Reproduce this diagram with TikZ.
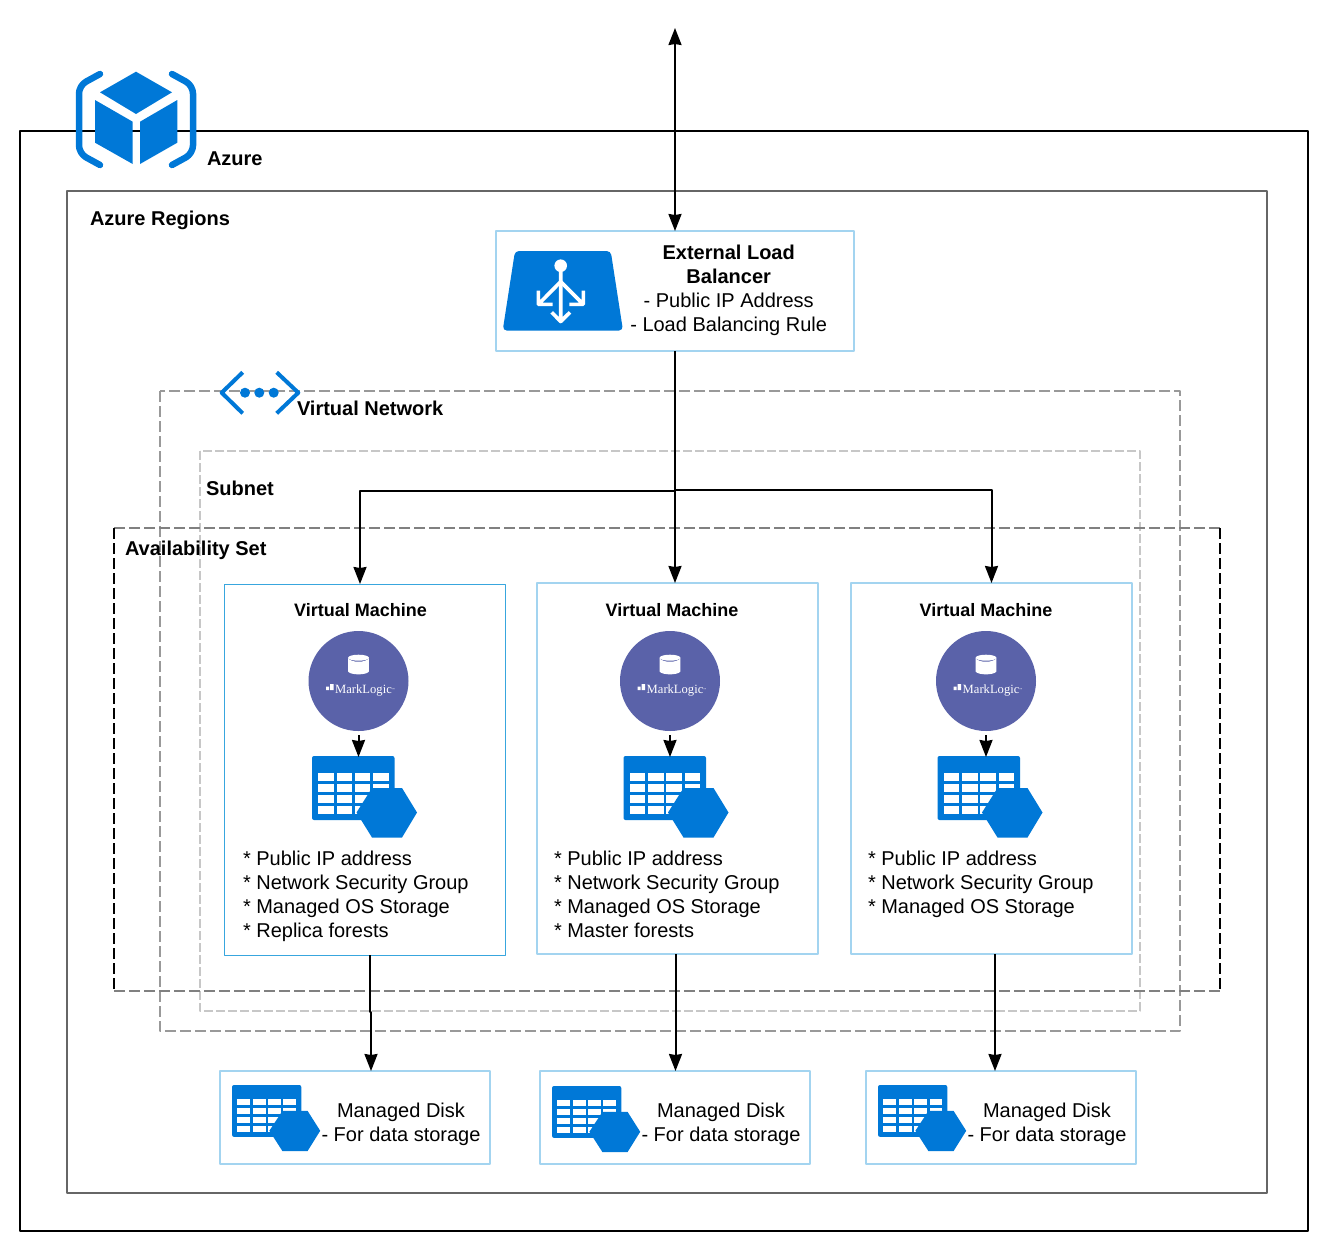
\documentclass[tikz,border=0pt]{standalone}
\usepackage{fontspec}
\setmainfont{Liberation Sans}
\newfontfamily\mlfont{Liberation Serif}
\usetikzlibrary{arrows.meta,positioning}
\definecolor{azblue}{HTML}{0078D7}
\definecolor{mlpurple}{HTML}{5A62A9}
\definecolor{paleblue}{HTML}{A3D4F0}
\definecolor{thinblue}{HTML}{38A6DE}
\tikzset{
	txt/.style={font=\fontsize{20}{24}\selectfont,inner sep=0pt,outer sep=0pt},
	title/.style={font=\fontsize{20}{24}\selectfont\bfseries,inner sep=0pt,outer sep=0pt,anchor=base west},
	vmtitle/.style={font=\fontsize{18}{22}\selectfont\bfseries,inner sep=0pt,outer sep=0pt},
	bluebox/.style={draw=paleblue,line width=2pt,fill=white,inner sep=0pt,outer sep=0pt},
	arr/.style={draw=black,line width=2pt,-{Stealth[length=17pt,width=13pt,inset=1pt]}},
	gridcell/.style={fill=white},
	pics/tablehex/.style={code={
		\fill[azblue,rounded corners=2pt] (0,0) rectangle (82.5,64);
		\foreach \cx in {6.3,24.7,42.7,61.3}
			\foreach \cy in {17.3,28,39,50}
				\fill[gridcell] (\cx,\cy) rectangle ++(15.4,7.8);
		\fill[azblue] (44.5,56.5)--(60,32)--(90,32)--(105,56.5)--(90,81.5)--(60,81.5)--cycle;
	}},
	pics/mlogo/.style={code={
		\fill[white] (0,-23.3) ellipse[x radius=10.4,y radius=3];
		\fill[white] (-10.4,-23) .. controls (-8,-18) and (8,-18) .. (10.4,-23)
			-- (10.4,-9.5) .. controls (8,-5.7) and (-8,-5.7) .. (-10.4,-9.5) -- cycle;
		\fill[white] (-28.5,3) rectangle (-25,9) (-32.5,5.5) rectangle (-29.5,9);
		\node[text=white,inner sep=0pt,anchor=base west,font=\mlfont\fontsize{12.6}{12}\selectfont] (mltext) at (-23.5,12.3) {MarkLogic\raisebox{3pt}{\fontsize{3}{3}\selectfont ™}};
	}},
}
\begin{document}
\begin{tikzpicture}[x=1pt,y=-1pt,line join=round,>=stealth]
	\useasboundingbox (0,0) rectangle (1328,1251);
	% containers
	\draw[line width=2pt] (20,131) rectangle (1308,1231);
	\draw[line width=2pt,draw=black!60] (67,191) rectangle (1267,1193);
	\draw[line width=2pt,draw=black!40,dash pattern=on 11pt off 4pt] (160,391) rectangle (1180,1031);
	\draw[line width=2pt,draw=black!22,dash pattern=on 9pt off 3pt] (200,451) rectangle (1140,1011);
	\draw[line width=2pt,draw=black!50,dash pattern=on 11pt off 4pt] (114,528) -- (1220,528) (114,991) -- (1220,991);
	\draw[line width=1.4pt,dash pattern=on 11pt off 4pt] (114,528) -- (114,991) (1220,528) -- (1220,991);
	% azure icon
	\draw[azblue,line width=6.5pt,line cap=round,rounded corners=8pt] (100,74)--(79,85.5)--(79,153.5)--(100,165);
	\draw[azblue,line width=6.5pt,line cap=round,rounded corners=8pt] (172,74)--(193,85.5)--(193,153.5)--(172,165);
	\fill[azblue] (136,71.7)--(172,92.3)--(136,114)--(100,92.3)--cycle;
	\fill[azblue] (95,100)--(132.7,121.7)--(132.7,164)--(95,142.7)--cycle;
	\fill[azblue] (177.3,100)--(140,121.7)--(140,164)--(177.3,142.7)--cycle;
	\node[title] (azure) at (207,165) {Azure};
	\node[title] (regions) at (90,225) {Azure Regions};
	% vnet icon
	\draw[azblue,line width=4pt] (242.7,372.3)--(221.7,392.7)--(242.7,413.3);
	\draw[azblue,line width=4pt] (276.7,372.3)--(298.3,392.7)--(276.7,413.3);
	\foreach \x in {245,259.3,273.7} \fill[azblue] (\x,392.7) circle (5);
	\node[title] (vnet) at (297,415) {Virtual Network};
	\node[title] (subnet) at (206,495) {Subnet};
	\node[title] (avset) at (125,555) {Availability Set};
	% load balancer
	\node[bluebox,minimum width=358pt,minimum height=120pt] (lb) at (675,291) {};
	\fill[azblue,rounded corners=4pt] (515,251)--(610.7,251)--(623,330.5)--(502.7,330.5)--cycle;
	\fill[white] (560.7,265.7) circle (6.3);
	\draw[white,line width=3.6pt] (560.7,268)--(560.7,321) (551.7,312.3)--(560.7,321.5)--(570,312.3);
	\draw[white,line width=3.6pt] (560.7,281.7)--(538.3,304.3) (538.3,290.7)--(538.3,304.3)--(552.7,304.3);
	\draw[white,line width=3.6pt] (560.7,281.7)--(583.3,304.3) (583.3,290.7)--(583.3,304.3)--(569.3,304.3);
	\node[txt,align=center] (lbtext) at (728.7,290) {\textbf{External Load}\\\textbf{Balancer}\\- Public IP Address\\- Load Balancing Rule};
	% virtual machines
	\node[bluebox,draw=thinblue,line width=1pt,minimum width=281pt,minimum height=371pt] (vma) at (365,769.5) {};
	\node[bluebox,minimum width=281pt,minimum height=371pt] (vmb) at (677.5,768.5) {};
	\node[bluebox,minimum width=281pt,minimum height=371pt] (vmc) at (991.5,768.5) {};
	\foreach \n/\tx/\cx/\ix/\lx/\ly/\lines in {
		a/360.5/358.5/312/243/896/{* Public IP address\\* Network Security Group\\* Managed OS Storage\\* Replica forests},
		b/672/670/623.5/554/894/{* Public IP address\\* Network Security Group\\* Managed OS Storage\\* Master forests},
		c/986/986/937.5/868/884/{* Public IP address\\* Network Security Group\\* Managed OS Storage}}{
		\node[vmtitle] (title\n) at (\tx,610) {Virtual Machine};
		\node[circle,fill=mlpurple,minimum size=100pt,inner sep=0pt,outer sep=0pt] (ml\n) at (\cx,681) {};
		\pic at (\cx,681) {mlogo};
		\pic at (\ix,756) {tablehex};
		\coordinate (tab\n) at (\cx,757);
		\draw[arr,shorten <=4pt] (ml\n.south) -- (tab\n);
		\node[txt,align=left,anchor=west] (notes\n) at (\lx,\ly) {\lines};
	}
	% managed disks
	\node[bluebox,minimum width=270pt,minimum height=93pt] (diska) at (355,1117.5) {};
	\node[bluebox,minimum width=270pt,minimum height=93pt] (diskb) at (675,1117.5) {};
	\node[bluebox,minimum width=270pt,minimum height=93pt] (diskc) at (1001,1117.5) {};
	\foreach \n/\ix/\iy/\tx in {a/232/1085/401,b/552/1086/721,c/878/1085/1047}{
		\pic[xscale=0.84,yscale=0.81] at (\ix,\iy) {tablehex};
		\node[txt,align=center] (disktext\n) at (\tx,1124) {Managed Disk\\- For data storage};
	}
	% connectors
	\coordinate (inet) at (675,28);
	\coordinate (split) at (675,491);
	\draw[arr,{Stealth[length=17pt,width=13pt,inset=1pt]}-{Stealth[length=17pt,width=13pt,inset=1pt]}] (inet) -- (lb.north);
	\draw[arr] (lb.south) -- (split) -| ([xshift=-5pt]vma.north);
	\draw[arr] (split) -- ([xshift=-2.5pt]vmb.north);
	\draw[arr] ([yshift=1pt]split) -| (vmc.north);
	\draw[arr] ([xshift=5pt]vma.south) -- ++(0,57) -- ++(1,0) -- ([xshift=16pt]diska.north);
	\draw[arr] ([xshift=-2pt]vmb.south) -- ([xshift=0.5pt]diskb.north);
	\draw[arr] ([xshift=3.5pt]vmc.south) -- ([xshift=-6pt]diskc.north);
\end{tikzpicture}
\end{document}
